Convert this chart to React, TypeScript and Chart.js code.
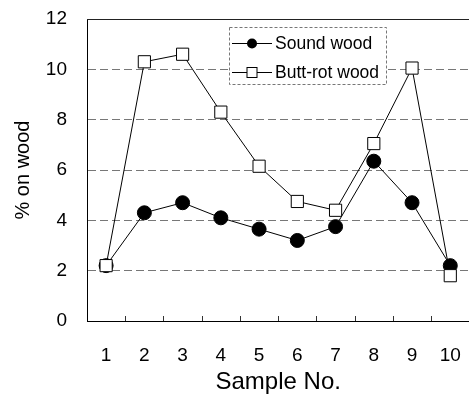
import React, { useEffect, useRef } from "react";
import { Chart, registerables } from "chart.js";

Chart.register(...registerables);

const categories = ["1", "2", "3", "4", "5", "6", "7", "8", "9", "10"];
const soundWood = [2.2, 4.3, 4.7, 4.1, 3.65, 3.2, 3.75, 6.35, 4.7, 2.2];
const buttRotWood = [2.2, 10.3, 10.6, 8.3, 6.15, 4.75, 4.4, 7.05, 10.05, 1.8];
const yMin = 0;
const yMax = 12;
const yStep = 2;
const seriesNames = ["Sound wood", "Butt-rot wood"];
const xTitle = "Sample No.";
const yTitle = "% on wood";

const FONT = "'Liberation Sans', Arial, Helvetica, sans-serif";

const framePlugin = {
  id: "frame",
  afterDatasetsDraw(chart: any) {
    const { ctx, chartArea, scales } = chart;
    ctx.save();
    ctx.strokeStyle = "#222";
    ctx.lineWidth = 1;
    ctx.setLineDash([]);
    ctx.beginPath();
    ctx.moveTo(chartArea.left, Math.round(chartArea.top) + 0.5);
    ctx.lineTo(chartArea.right, Math.round(chartArea.top) + 0.5);
    ctx.stroke();
    const xs = scales.x;
    ctx.strokeStyle = "#333";
    for (let i = 1; i < categories.length; i++) {
      const px = Math.round((xs.getPixelForValue(i - 1) + xs.getPixelForValue(i)) / 2) + 0.5;
      ctx.beginPath();
      ctx.moveTo(px, chartArea.bottom);
      ctx.lineTo(px, chartArea.bottom - 5);
      ctx.stroke();
    }
    ctx.restore();
  },
  afterDraw(chart: any) {
    const { ctx } = chart;
    const bx = 229.5, by = 27.5, bw = 157, bh = 57;
    ctx.save();
    ctx.fillStyle = "#fff";
    ctx.fillRect(bx, by, bw, bh);
    ctx.strokeStyle = "#777";
    ctx.lineWidth = 1;
    ctx.setLineDash([3, 2]);
    ctx.strokeRect(bx, by, bw, bh);
    ctx.setLineDash([]);
    const rows = [43, 72];
    ctx.font = `17.5px ${FONT}`;
    ctx.textBaseline = "middle";
    ctx.textAlign = "left";
    rows.forEach((y, i) => {
      ctx.strokeStyle = "#000";
      ctx.lineWidth = 1;
      ctx.beginPath();
      ctx.moveTo(232, y + 0.5);
      ctx.lineTo(272, y + 0.5);
      ctx.stroke();
      if (i === 0) {
        ctx.fillStyle = "#000";
        ctx.beginPath();
        ctx.arc(252, y + 0.5, 5, 0, Math.PI * 2);
        ctx.fill();
      } else {
        ctx.fillStyle = "#fff";
        ctx.fillRect(247, y - 4.5, 10, 10);
        ctx.strokeRect(247, y - 4.5, 10, 10);
      }
      ctx.fillStyle = "#000";
      ctx.fillText(seriesNames[i], 275, y + 1);
    });
    ctx.restore();
  },
};

const CANVAS_W = 479;

export default function App() {
  const ref = useRef<HTMLCanvasElement | null>(null);

  useEffect(() => {
    document.body.style.margin = "0";
    const canvas = ref.current;
    if (!canvas) return;
    const chart = new Chart(canvas, {
      type: "line",
      data: {
        labels: categories,
        datasets: [
          {
            label: seriesNames[0],
            data: soundWood,
            borderColor: "#000",
            borderWidth: 1,
            backgroundColor: "#000",
            pointBackgroundColor: "#000",
            pointBorderColor: "#000",
            pointStyle: "circle",
            pointRadius: 7,
            tension: 0,
            order: 1,
          },
          {
            label: seriesNames[1],
            data: buttRotWood,
            borderColor: "#000",
            borderWidth: 1,
            backgroundColor: "#fff",
            pointBackgroundColor: "#fff",
            pointBorderColor: "#000",
            pointBorderWidth: 1,
            pointStyle: "rect",
            pointRadius: 8.6,
            tension: 0,
            order: 0,
          },
        ],
      },
      options: {
        animation: false,
        responsive: false,
        devicePixelRatio: 1,
        layout: { padding: { top: 19, right: 0, left: 0, bottom: 0 } },
        plugins: {
          legend: { display: false },
          tooltip: { enabled: false },
        },
        scales: {
          x: {
            type: "category",
            offset: true,
            grid: { display: false, drawTicks: false },
            border: { display: true, color: "#000", width: 1 },
            ticks: {
              color: "#000",
              padding: 23,
              font: { family: FONT, size: 19 },
              maxRotation: 0,
              autoSkip: false,
            },
            title: {
              display: true,
              text: xTitle,
              color: "#000",
              font: { family: FONT, size: 24, lineHeight: 1 },
              padding: { top: 0, bottom: 0 },
            },
            afterFit: (s: any) => {
              s.height = 73;
              s.paddingLeft = 0;
              s.paddingRight = 0;
            },
          },
          y: {
            min: yMin,
            max: yMax,
            grid: {
              drawTicks: false,
              color: (c: any) => (c.tick && (c.tick.value === yMax || c.tick.value === yMin) ? "rgba(0,0,0,0)" : "#777"),
              lineWidth: 1,
            },
            border: { display: true, color: "#000", width: 1, dash: [8, 4] },
            ticks: {
              stepSize: yStep,
              color: "#000",
              padding: 20,
              font: { family: FONT, size: 19 },
            },
            title: {
              display: true,
              text: yTitle,
              color: "#000",
              font: { family: FONT, size: 20, lineHeight: 1 },
              padding: { top: 13, bottom: 0 },
            },
            afterFit: (s: any) => {
              s.width = 87;
              s.paddingTop = 0;
              s.paddingBottom = 0;
            },
          },
        },
      },
      plugins: [framePlugin],
    });
    return () => chart.destroy();
  }, []);

  return (
    <div style={{ position: "absolute", left: 0, top: 0, width: 469, height: 394, overflow: "hidden", background: "#fff" }}>
      <canvas ref={ref} width={CANVAS_W} height={394} style={{ width: CANVAS_W, height: 394, display: "block" }} />
    </div>
  );
}
